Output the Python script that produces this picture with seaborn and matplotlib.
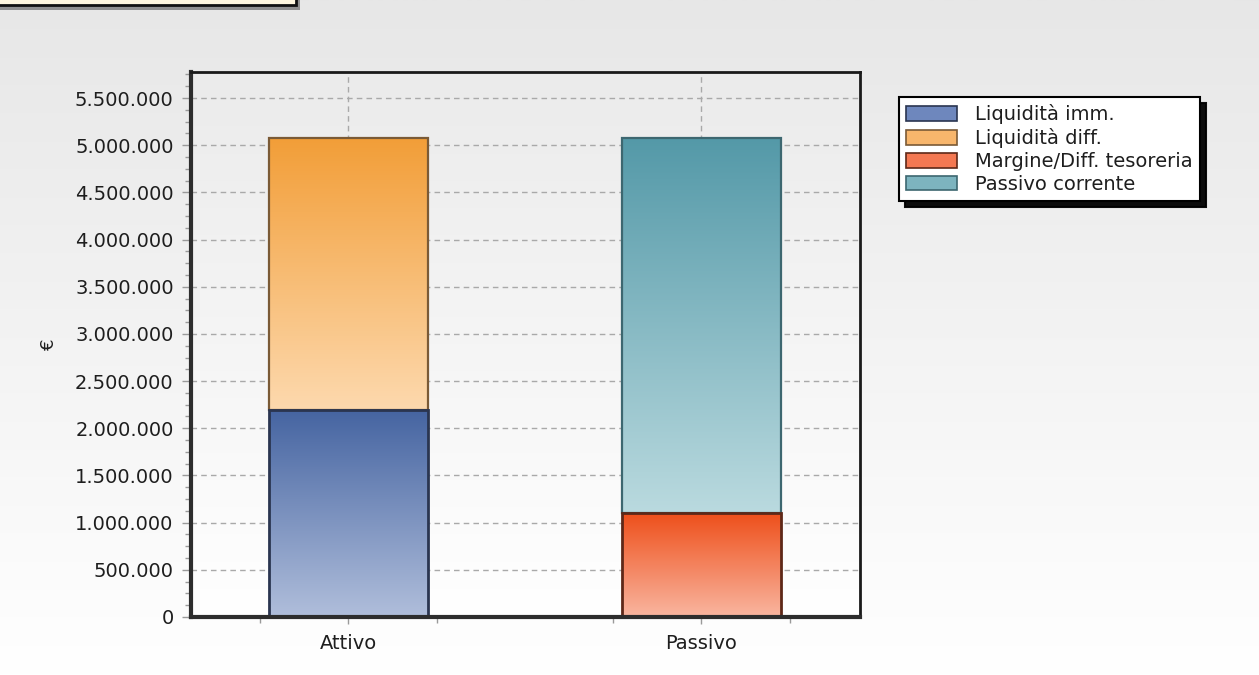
import numpy as np
import pandas as pd
import matplotlib
matplotlib.use("Agg")
import matplotlib.pyplot as plt
import seaborn as sns
from matplotlib.patches import Rectangle, Patch
from matplotlib.colors import LinearSegmentedColormap
from matplotlib.ticker import MultipleLocator, FuncFormatter, FixedLocator
from matplotlib.transforms import IdentityTransform

# ---- data -------------------------------------------------------------
categories = ["Attivo", "Passivo"]
series = ["Liquidità imm.", "Liquidità diff.", "Margine/Diff. tesoreria", "Passivo corrente"]
series_category = ["Attivo", "Attivo", "Passivo", "Passivo"]
values = [2194000, 2882000, 1102000, 3974000]

# ---- styling ----------------------------------------------------------
top_colors = ["#4564a1", "#f29e38", "#ee4f1b", "#5499a8"]
bottom_colors = ["#b0bedb", "#fdd9ae", "#f9b6a0", "#badadf"]
edge_colors = ["#2a3550", "#7a5a36", "#5e2818", "#3d6770"]
legend_colors = ["#6e87bd", "#f8b66c", "#f47852", "#7db4bf"]

sns.set_theme(style="white")
plt.rcParams["font.family"] = ["DejaVu Sans"]

W, H = 1259, 675
FS = 14
fig = plt.figure(figsize=(W / 100, H / 100), dpi=100)

# soft vertical gradient behind everything
bg = fig.add_axes([0, 0, 1, 1], zorder=-10)
bg_cmap = LinearSegmentedColormap.from_list("bg", ["#ffffff", "#e7e7e7"])
bg.imshow(np.linspace(0, 1, 256).reshape(-1, 1), extent=[0, 1, 0, 1], origin="lower",
          aspect="auto", cmap=bg_cmap)
bg.axis("off")

ax = fig.add_axes([191 / W, 1 - 617 / H, (860 - 191) / W, (617 - 72) / H])
ax.patch.set_visible(False)

# plot-area gradient
pa_cmap = LinearSegmentedColormap.from_list("pa", ["#ffffff", "#ebebeb"])
ax.imshow(np.linspace(0, 1, 256).reshape(-1, 1), extent=[0, 1, 0, 1], origin="lower",
          aspect="auto", cmap=pa_cmap, transform=ax.transAxes, zorder=0)

df = pd.DataFrame({"categoria": series_category, "voce": series, "valore": values})
df["base"] = df.groupby("categoria")["valore"].cumsum() - df["valore"]

grad = np.linspace(0, 1, 256).reshape(-1, 1)
# upper segments first so the lower segment's edge sits on the joint
draw_order = [1, 3, 0, 2]
for i in draw_order:
    row = df.iloc[[i]]
    lw = 1.6 if i in (1, 3) else 2.0
    sns.barplot(data=row, x="categoria", y="valore", order=categories, width=0.45,
                color=top_colors[i], edgecolor=edge_colors[i], linewidth=lw,
                errorbar=None, ax=ax, zorder=4)
    patch = ax.patches[-1]
    patch.set_y(df.loc[i, "base"])
    x0, w = patch.get_x(), patch.get_width()
    y0, h = patch.get_y(), patch.get_height()
    cmap = LinearSegmentedColormap.from_list(f"g{i}", [bottom_colors[i], top_colors[i]])
    im = ax.imshow(grad, extent=[x0, x0 + w, y0, y0 + h], origin="lower", aspect="auto",
                   cmap=cmap, zorder=3, interpolation="bilinear")
    im.set_clip_path(patch)
    patch.set_facecolor("none")

# ---- axes -------------------------------------------------------------
ax.set_xlim(-0.446, 1.449)
ax.set_ylim(0, 5776000)

ax.yaxis.set_major_locator(MultipleLocator(500000))
ax.yaxis.set_minor_locator(MultipleLocator(125000))
ax.yaxis.set_major_formatter(FuncFormatter(lambda v, p: f"{int(round(v)):,}".replace(",", ".")))
ax.xaxis.set_minor_locator(FixedLocator([-0.25, 0.25, 0.75, 1.25]))

ax.tick_params(axis="y", which="major", direction="out", length=6.5, width=1,
               color="#9a9a9a", labelsize=FS, labelcolor="#1e1e1e", pad=6, left=True)
ax.tick_params(axis="y", which="minor", direction="out", length=4, width=1,
               color="#9a9a9a", left=True)
ax.tick_params(axis="x", which="major", direction="out", length=5, width=1,
               color="#9a9a9a", labelsize=FS, labelcolor="#1e1e1e", pad=7, bottom=True)
ax.tick_params(axis="x", which="minor", direction="out", length=4, width=1,
               color="#9a9a9a", bottom=True)

ax.set_axisbelow(True)
ax.grid(True, axis="both", which="major", linestyle=(0, (4, 3)), color="#a9a9a9", linewidth=1)

for side, lw, col in [("left", 3, "#2d2d2d"), ("bottom", 3, "#2d2d2d"),
                      ("top", 2, "#1a1a1a"), ("right", 2, "#1a1a1a")]:
    ax.spines[side].set_visible(True)
    ax.spines[side].set_linewidth(lw)
    ax.spines[side].set_color(col)
    ax.spines[side].set_zorder(6)

ax.set_xlabel("")
ax.set_ylabel("€", fontsize=13, color="#1e1e1e")
ax.yaxis.set_label_coords((58 - 191) / (860 - 191), 0.5)

# ---- legend -----------------------------------------------------------
handles = [Patch(facecolor=legend_colors[i], edgecolor=edge_colors[i], linewidth=1.2)
           for i in range(len(series))]
leg = fig.legend(handles, series, loc="upper left",
                 bbox_to_anchor=(899 / W, 1 - 97 / H), bbox_transform=fig.transFigure,
                 frameon=True, fancybox=False, edgecolor="black", facecolor="white",
                 framealpha=1, fontsize=FS, handlelength=2.6, handleheight=0.75,
                 labelspacing=0.2, handletextpad=0.95, borderpad=0.38, borderaxespad=0,
                 shadow={"ox": 4, "oy": -4, "color": "black", "alpha": 0.95})
leg.get_frame().set_linewidth(1.5)
for t in leg.get_texts():
    t.set_color("#1e1e1e")

# ---- title box clipped at the top edge -------------------------------
fig.add_artist(Rectangle((-6, H - 10), 306, 30, transform=IdentityTransform(),
                         facecolor="#6b6b6b", edgecolor="none", alpha=0.7, zorder=20))
fig.add_artist(Rectangle((-10, H - 5), 306, 30, transform=IdentityTransform(),
                         facecolor="#fff7df", edgecolor="#111111", linewidth=2, zorder=21))

fig.savefig("out.png", dpi=100)
